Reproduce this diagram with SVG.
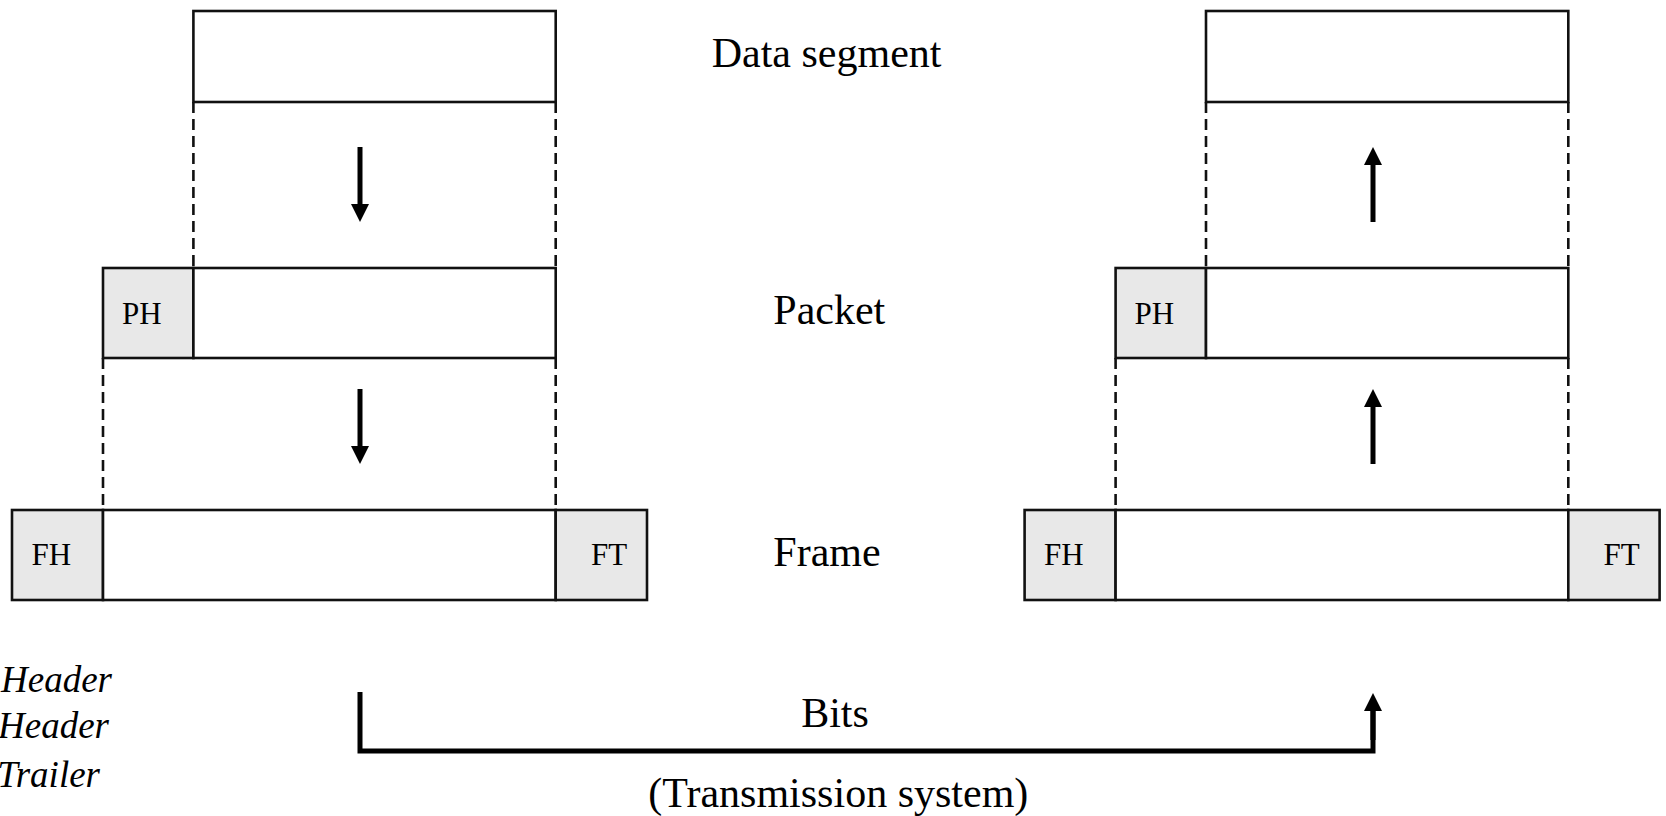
<svg xmlns="http://www.w3.org/2000/svg" width="1666" height="816" viewBox="0 0 1666 816">
  <style>
    .box { fill: #ffffff; stroke: #111111; stroke-width: 2.6; }
    .hdr { fill: #e8e8e8; stroke: #111111; stroke-width: 2.6; }
    .dash { fill: none; stroke: #111111; stroke-width: 2.6; stroke-dasharray: 11 6; }
    .flow { fill: none; stroke: #000000; stroke-width: 5; marker-end: url(#head); }
    .wire { fill: none; stroke: #000000; stroke-width: 5; stroke-linejoin: miter; }
    .lbl { font-family: "Liberation Serif", "Times New Roman", serif; font-size: 42px; fill: #000000; }
    .tag { font-family: "Liberation Serif", "Times New Roman", serif; font-size: 31px; fill: #000000; }
    .key { font-family: "Liberation Serif", "Times New Roman", serif; font-size: 37px; font-style: italic; fill: #000000; }
  </style>
  <defs>
    <marker id="head" viewBox="0 0 18 18" markerWidth="18" markerHeight="18" markerUnits="userSpaceOnUse" refX="0" refY="9" orient="auto">
      <path d="M0,0 L18,9 L0,18 Z" fill="#000000"/>
    </marker>
  </defs>

  <rect width="1666" height="816" fill="#ffffff"/>

  <!-- sender side -->
  <g id="tx-segment">
    <rect class="box" x="193.4" y="11" width="362.3" height="91"/>
  </g>
  <g id="tx-packet">
    <rect class="hdr" x="103" y="268" width="90.4" height="90"/>
    <rect class="box" x="193.4" y="268" width="362.3" height="90"/>
    <text class="tag" x="122" y="324">PH</text>
  </g>
  <g id="tx-frame">
    <rect class="hdr" x="12" y="510" width="91" height="90"/>
    <rect class="box" x="103" y="510" width="452.7" height="90"/>
    <rect class="hdr" x="555.7" y="510" width="91.3" height="90"/>
    <text class="tag" x="31.5" y="565">FH</text>
    <text class="tag" x="591" y="565">FT</text>
  </g>

  <!-- receiver side -->
  <g id="rx-segment">
    <rect class="box" x="1206" y="11" width="362.3" height="91"/>
  </g>
  <g id="rx-packet">
    <rect class="hdr" x="1115.6" y="268" width="90.4" height="90"/>
    <rect class="box" x="1206" y="268" width="362.3" height="90"/>
    <text class="tag" x="1134.6" y="324">PH</text>
  </g>
  <g id="rx-frame">
    <rect class="hdr" x="1024.6" y="510" width="91" height="90"/>
    <rect class="box" x="1115.6" y="510" width="452.7" height="90"/>
    <rect class="hdr" x="1568.3" y="510" width="91.3" height="90"/>
    <text class="tag" x="1044.1" y="565">FH</text>
    <text class="tag" x="1603.6" y="565">FT</text>
  </g>

  <!-- layer names -->
  <g id="layer-labels">
    <text class="lbl" x="711.7" y="66.5">Data segment</text>
    <text class="lbl" x="773.3" y="324">Packet</text>
    <text class="lbl" x="773.3" y="566">Frame</text>
    <text class="lbl" x="835" y="727" text-anchor="middle">Bits</text>
    <text class="lbl" x="838.3" y="807" text-anchor="middle">(Transmission system)</text>
  </g>

  <!-- abbreviation key -->
  <g id="key">
    <text class="key" x="112" y="691.5" text-anchor="end">Header</text>
    <text class="key" x="109" y="738" text-anchor="end">Header</text>
    <text class="key" x="100" y="786.5" text-anchor="end">Trailer</text>
  </g>

  <g id="connectors">
    <!-- extent guides -->
    <path class="dash" d="M193.4,102 V268 M555.7,102 V268 M103,358 V510 M555.7,358 V510"/>
    <path class="dash" d="M1206,102 V268 M1568.3,102 V268 M1115.6,358 V510 M1568.3,358 V510"/>
    <!-- encapsulation going down -->
    <path class="flow" d="M360,147 V204"/>
    <path class="flow" d="M360,389 V446"/>
    <!-- decapsulation going up -->
    <path class="flow" d="M1373,222 V165"/>
    <path class="flow" d="M1373,464 V407"/>
    <!-- physical link -->
    <path class="wire" d="M360,692 V751 H1373 V711"/>
    <path class="flow" d="M1373,740 V711"/>
  </g>
</svg>
